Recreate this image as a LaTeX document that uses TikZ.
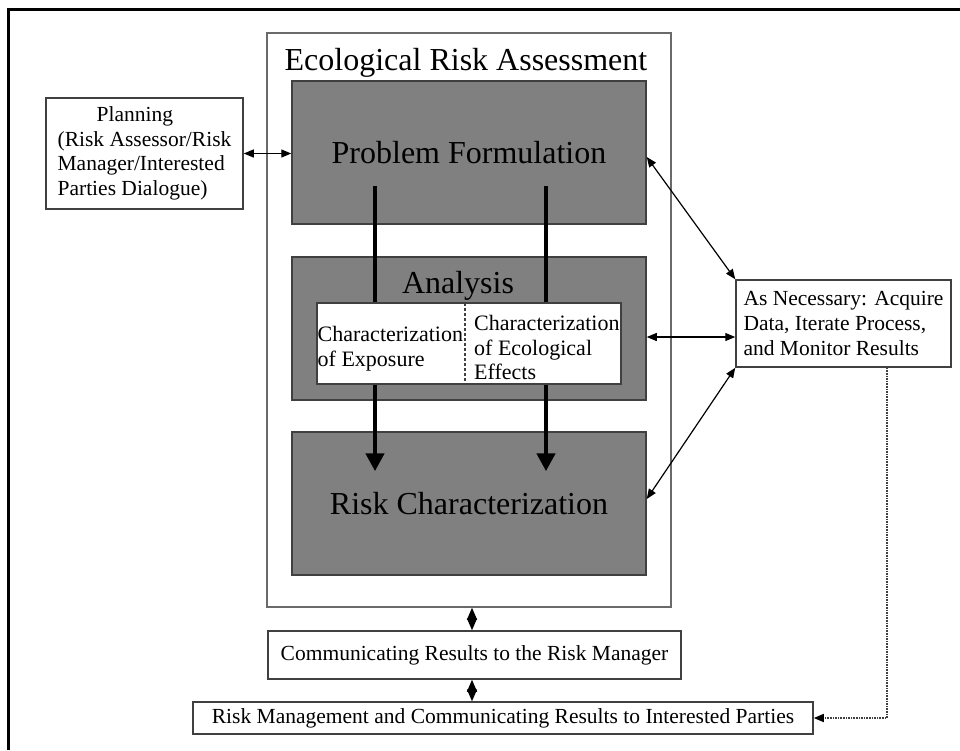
\documentclass[tikz,border=0pt]{standalone}
\usepackage{fontspec}
\setmainfont{Liberation Serif}
\usetikzlibrary{arrows.meta}
\usetikzlibrary{calc}
\definecolor{boxgray}{HTML}{808080}
\definecolor{edgegray}{HTML}{404040}
\definecolor{framegray}{HTML}{6A6A6A}
\tikzset{
    graybox/.style={draw=edgegray, line width=1.5pt, fill=boxgray, minimum width=354pt, minimum height=143pt, inner sep=0pt, font=\fontsize{32}{36}\selectfont},
    whitebox/.style={draw=edgegray, line width=1.5pt, fill=white, inner sep=0pt, align=left, font=\fontsize{21.5}{24.6}\selectfont},
    twoway/.style={line width=1.2pt, {Triangle[length=10pt,width=8pt]}-{Triangle[length=10pt,width=8pt]}},
    flow/.style={line width=4.5pt, -{Triangle[length=18pt,width=18pt]}},
    stack/.style={line width=1.2pt, {Triangle[length=12pt,width=10pt]}-{Triangle[length=12pt,width=10pt]}},
    dotline/.style={draw=edgegray, line width=1.6pt, densely dotted, -{Triangle[length=10pt,width=8pt,black]}}
}

\begin{document}
\begin{tikzpicture}[x=1pt, y=-1pt]
    \useasboundingbox (0,0) rectangle (960,750);
    \draw[line width=3pt] (8.5,750) -- (8.5,9.5) -- (960,9.5);

    % assessment frame
    \node[draw=framegray, line width=1.5pt, minimum width=404pt, minimum height=574pt, inner sep=0pt] (era) at (469,320) {};
    \node[anchor=base, inner sep=0pt, font=\fontsize{32}{36}\selectfont] (eratitle) at (466,70) {Ecological Risk Assessment};

    \node[graybox] (pf) at (469,152.5) {Problem Formulation};
    \node[graybox] (an) at (469,328.5) {};
    \node[anchor=base, inner sep=0pt, font=\fontsize{32}{36}\selectfont] (antitle) at (458,293) {Analysis};
    \node[graybox] (rc) at (469,503.5) {Risk Characterization};

    \draw[flow] ($(pf.center)+(-94,33.5)$) -- ($(rc.north)+(-94,40)$);
    \draw[flow] ($(pf.center)+(77,33.5)$) -- ($(rc.north)+(77,40)$);

    \node[whitebox, minimum width=304pt, minimum height=81pt] (inner) at (469,343.5) {};
    \draw[edgegray, line width=1.2pt, dashed, dash pattern=on 3pt off 2pt] (465,303) -- (465,384);
    \begin{scope}[font=\fontsize{22}{24.5}\selectfont]
        \node[anchor=west, inner sep=0pt, align=left] (expo) at (317.5,348.5) {Characterization\\of Exposure};
        \node[anchor=west, inner sep=0pt, align=left] (effects) at (474,347.5) {Characterization\\of Ecological\\Effects};
    \end{scope}

    \node[whitebox, minimum width=197pt, minimum height=111pt] (plan) at (144.5,153.5) {\hspace*{39pt}Planning\\(Risk Assessor/Risk\\Manager/Interested\\Parties Dialogue)};
    \node[whitebox, minimum width=215pt, minimum height=87pt] (nec) at (843.5,323.5) {As Necessary: Acquire\\Data, Iterate Process,\\and Monitor Results};
    \node[whitebox, minimum width=413pt, minimum height=48pt] (comm) at (474.5,655) {Communicating Results to the Risk Manager};
    \node[whitebox, minimum width=620pt, minimum height=32pt] (mgmt) at (503,718) {Risk Management and Communicating Results to Interested Parties};

    \coordinate (anout) at ($(an.east)+(0,8.5)$);
    \draw[twoway] (plan.east) -- (plan.east -| pf.west);
    \draw[twoway] ($(pf.east)+(0,4.5)$) -- (nec.north west);
    \draw[twoway] (anout) -- (anout -| nec.west);
    \draw[twoway] ($(rc.east)+(0,-4.5)$) -- (nec.south west);

    \coordinate (mid) at (472,0);
    \draw[stack] (era.south -| mid) -- (comm.north -| mid);
    \draw[stack] (comm.south -| mid) -- (mgmt.north -| mid);

    \coordinate (bend) at (887,718);
    \draw[dotline] (nec.south -| bend) -- (bend) -- (mgmt.east);
\end{tikzpicture}
\end{document}
